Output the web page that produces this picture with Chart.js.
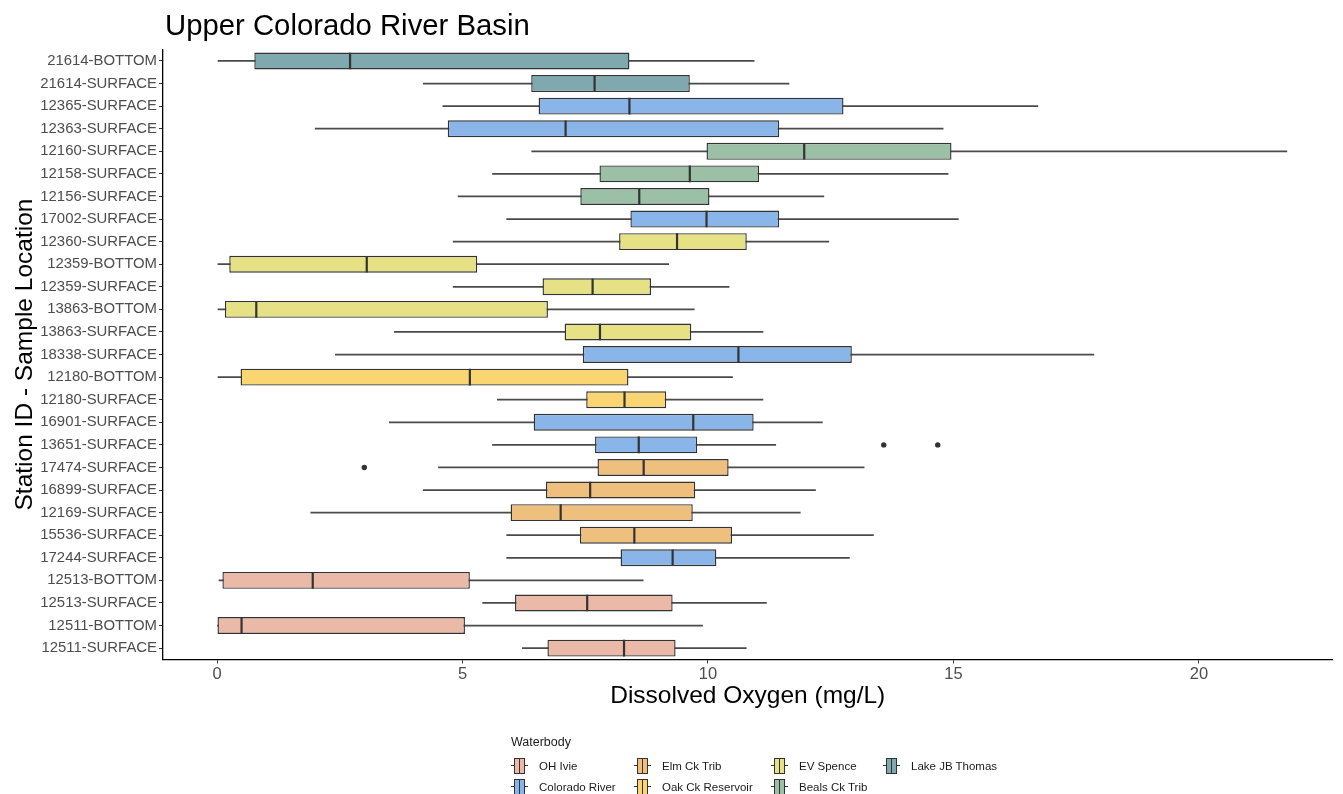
<!DOCTYPE html>
<html>
<head>
<meta charset="utf-8">
<title>Upper Colorado River Basin</title>
<script src="https://cdn.jsdelivr.net/npm/chart.js@4.4.0/dist/chart.umd.min.js"></script>
<style>
  html, body { margin: 0; padding: 0; background: #fff; }
  body {
    width: 1343px; height: 794px; position: relative; overflow: hidden;
    font-family: "Liberation Sans", Arial, sans-serif;
  }
  #doChart { position: absolute; left: 0; top: 0; }
  #title {
    position: absolute; left: 165px; top: 8px;
    font-size: 29.3px; line-height: 33px; color: #000; white-space: nowrap;
  }
  #legend { position: absolute; left: 511px; top: 733px; color: #1a1a1a; }
  #legend .ltitle { font-size: 12.5px; line-height: 18px; height: 22px; }
  #legend .items {
    display: grid; grid-auto-flow: column;
    grid-template-rows: 21px 21px;
    grid-template-columns: 123px 137px 112px auto;
  }
  #legend .item { display: flex; align-items: center; font-size: 11.5px; white-space: nowrap; }
  .key { position: relative; width: 17px; height: 18px; margin-right: 11px; flex: none; }
  .key .wh { position: absolute; left: 0; right: 0; top: 8.5px; height: 1px; background: #333; }
  .key .bx { position: absolute; left: 3px; width: 9px; top: 1px; height: 14px; border: 1px solid #333; }
  .key .md { position: absolute; left: 7.5px; top: 1px; width: 1.6px; height: 16px; background: #333; }
</style>
</head>
<body>
<canvas id="doChart" width="1343" height="794"></canvas>
<div id="title">Upper Colorado River Basin</div>
<div id="legend">
  <div class="ltitle">Waterbody</div>
  <div class="items" id="legendItems"></div>
</div>
<script>
// Station / sample location, top to bottom
const stations = [
  '21614-BOTTOM', '21614-SURFACE', '12365-SURFACE', '12363-SURFACE', '12160-SURFACE',
  '12158-SURFACE', '12156-SURFACE', '17002-SURFACE', '12360-SURFACE', '12359-BOTTOM',
  '12359-SURFACE', '13863-BOTTOM', '13863-SURFACE', '18338-SURFACE', '12180-BOTTOM',
  '12180-SURFACE', '16901-SURFACE', '13651-SURFACE', '17474-SURFACE', '16899-SURFACE',
  '12169-SURFACE', '15536-SURFACE', '17244-SURFACE', '12513-BOTTOM', '12513-SURFACE',
  '12511-BOTTOM', '12511-SURFACE'
];
const waterbody = [
  'Lake JB Thomas', 'Lake JB Thomas', 'Colorado River', 'Colorado River', 'Beals Ck Trib',
  'Beals Ck Trib', 'Beals Ck Trib', 'Colorado River', 'EV Spence', 'EV Spence',
  'EV Spence', 'EV Spence', 'EV Spence', 'Colorado River', 'Oak Ck Reservoir',
  'Oak Ck Reservoir', 'Colorado River', 'Colorado River', 'Elm Ck Trib', 'Elm Ck Trib',
  'Elm Ck Trib', 'Elm Ck Trib', 'Colorado River', 'OH Ivie', 'OH Ivie',
  'OH Ivie', 'OH Ivie'
];

// Dissolved oxygen (mg/L) five-number summaries
const whiskerLow = [0.02, 4.20, 4.60, 2.00, 6.41, 5.61, 4.91, 5.90, 4.81, 0.02,
  4.81, 0.02, 3.61, 2.41, 0.02, 5.71, 3.51, 5.61, 4.51, 4.20,
  1.91, 5.90, 5.90, 0.04, 5.41, 0.00, 6.22];
const q1 = [0.76, 6.40, 6.55, 4.70, 9.97, 7.79, 7.40, 8.42, 8.19, 0.25,
  6.63, 0.16, 7.08, 7.45, 0.48, 7.52, 6.45, 7.70, 7.75, 6.70,
  5.98, 7.39, 8.22, 0.11, 6.07, 0.01, 6.73];
const median = [2.71, 7.69, 8.40, 7.10, 11.96, 9.63, 8.60, 9.97, 9.37, 3.05,
  7.65, 0.80, 7.80, 10.62, 5.15, 8.30, 9.70, 8.59, 8.69, 7.60,
  7.00, 8.50, 9.28, 1.95, 7.54, 0.50, 8.29];
const q3 = [8.40, 9.63, 12.76, 11.45, 14.96, 11.04, 10.03, 11.45, 10.79, 5.30,
  8.84, 6.74, 9.66, 12.93, 8.38, 9.15, 10.93, 9.78, 10.42, 9.74,
  9.69, 10.49, 10.17, 5.15, 9.28, 5.05, 9.34];
const whiskerHigh = [10.94, 11.65, 16.72, 14.79, 21.79, 14.89, 12.36, 15.10, 12.46, 9.20,
  10.43, 9.72, 11.12, 17.86, 10.50, 11.12, 12.33, 11.38, 13.18, 12.19,
  11.88, 13.37, 12.88, 8.68, 11.19, 9.89, 10.78];

// Outlying samples
const outlierStation = ['13651-SURFACE', '13651-SURFACE', '17474-SURFACE'];
const outlierValue = [13.58, 14.68, 3.0];

const xTicks = [0, 5, 10, 15, 20];

// Legend order (column by column)
const legendOrder = ['OH Ivie', 'Colorado River', 'Elm Ck Trib', 'Oak Ck Reservoir',
  'EV Spence', 'Beals Ck Trib', 'Lake JB Thomas'];
const groupColors = {
  'OH Ivie': '#ebb9a7',
  'Colorado River': '#8ab5e8',
  'Elm Ck Trib': '#efbf7e',
  'Oak Ck Reservoir': '#f9d671',
  'EV Spence': '#e6e185',
  'Beals Ck Trib': '#9bc0a6',
  'Lake JB Thomas': '#7fa9ae'
};

Chart.defaults.font.family = '"Liberation Sans", Arial, sans-serif';

const ctx = document.getElementById('doChart');
new Chart(ctx, {
  type: 'bar',
  data: {
    labels: stations,
    datasets: [
      {
        label: 'Whiskers',
        data: stations.map((s, i) => [whiskerLow[i], whiskerHigh[i]]),
        backgroundColor: '#4a4a4a',
        barThickness: 1.1,
        grouped: false,
        order: 4
      },
      {
        label: 'Box',
        data: stations.map((s, i) => [q1[i], q3[i]]),
        backgroundColor: waterbody.map(w => groupColors[w]),
        borderColor: '#333333',
        borderWidth: 1.4,
        borderSkipped: false,
        barPercentage: 0.75,
        categoryPercentage: 1,
        grouped: false,
        order: 3
      },
      {
        type: 'scatter',
        label: 'Median',
        data: stations.map((s, i) => ({ x: median[i], y: s })),
        pointStyle: 'line',
        rotation: 90,
        radius: 8.3,
        borderColor: '#333333',
        borderWidth: 2.2,
        order: 2
      },
      {
        type: 'scatter',
        label: 'Outliers',
        data: outlierStation.map((s, i) => ({ x: outlierValue[i], y: s })),
        pointStyle: 'circle',
        radius: 2.7,
        backgroundColor: '#333333',
        borderWidth: 0,
        order: 1
      }
    ]
  },
  options: {
    indexAxis: 'y',
    responsive: false,
    animation: false,
    devicePixelRatio: 1,
    layout: { padding: { top: 49.7, right: 8, bottom: 78.8, left: 0 } },
    plugins: {
      legend: { display: false },
      tooltip: { enabled: false }
    },
    scales: {
      x: {
        type: 'linear',
        min: -1.1,
        max: 22.72,
        afterBuildTicks: (scale) => { scale.ticks = xTicks.map(v => ({ value: v })); },
        afterFit: (scale) => { scale.height = 55.8; },
        grid: { drawOnChartArea: false, tickLength: 4, color: '#333333', lineWidth: 1 },
        border: { color: '#000000', width: 1.3 },
        ticks: { font: { size: 16.5 }, color: '#4d4d4d', padding: 1 },
        title: {
          display: true,
          text: 'Dissolved Oxygen (mg/L)',
          font: { size: 24.5 },
          color: '#000000',
          padding: { top: 0, bottom: 4 }
        }
      },
      y: {
        type: 'category',
        offset: true,
        afterFit: (scale) => { scale.width = 163; },
        grid: { offset: false, drawOnChartArea: false, tickLength: 4, color: '#333333' },
        border: { color: '#000000', width: 1.3 },
        ticks: { font: { size: 14.9 }, color: '#4d4d4d', padding: 2, autoSkip: false },
        title: {
          display: true,
          text: 'Station ID - Sample Location',
          font: { size: 24.5 },
          color: '#000000',
          padding: { top: 10.3, bottom: 0 }
        }
      }
    }
  }
});

// Legend keys
const legendItems = document.getElementById('legendItems');
legendItems.innerHTML = legendOrder.map(name => `
  <div class="item">
    <div class="key"><div class="wh"></div><div class="bx" style="background:${groupColors[name]}"></div><div class="md"></div></div>
    <span>${name}</span>
  </div>
`).join('');
</script>
</body>
</html>
